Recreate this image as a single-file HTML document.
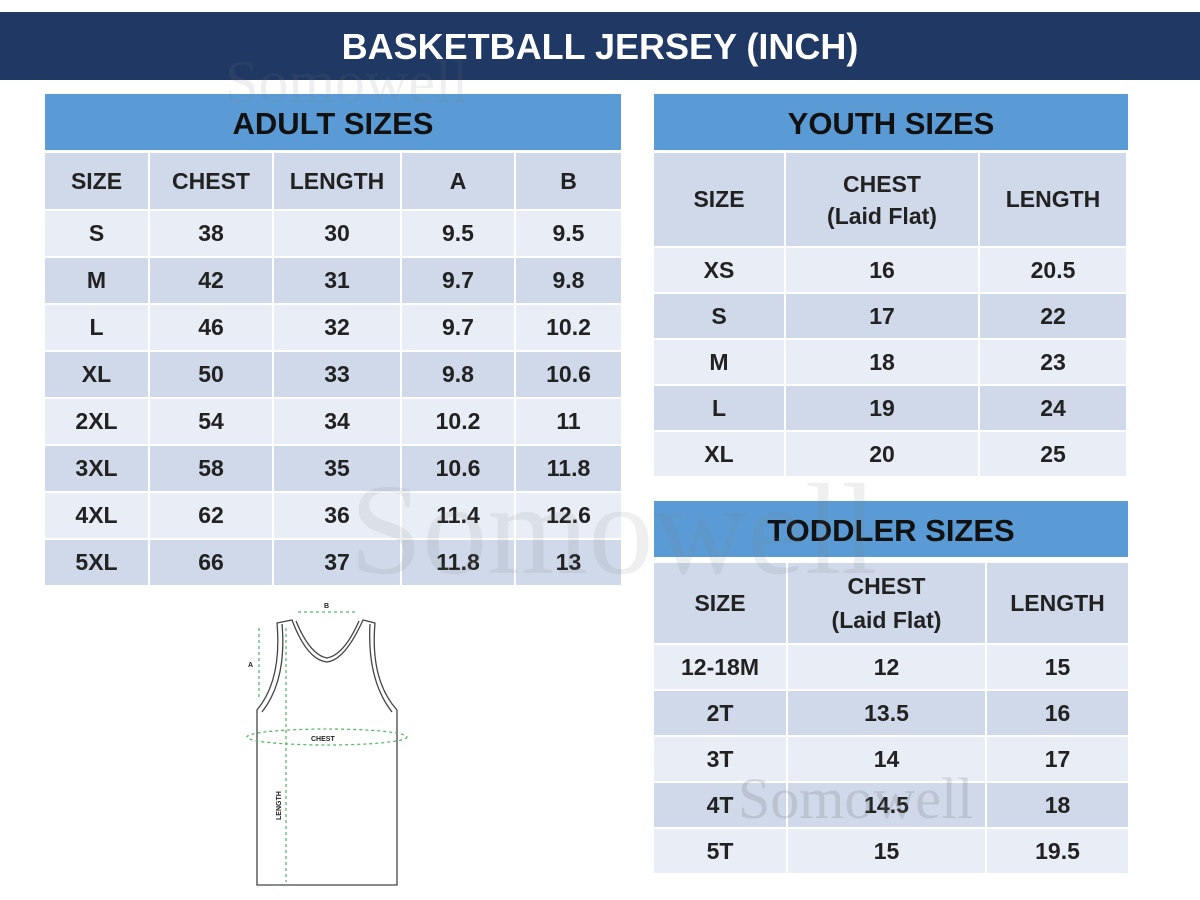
<!DOCTYPE html>
<html><head><meta charset="utf-8"><style>
body{margin:0;width:1200px;height:900px;background:#fff;position:relative;overflow:hidden;font-family:"Liberation Sans",sans-serif;}
.bar{position:absolute;left:0;top:12px;width:1200px;height:68px;background:#203864;color:#fff;font-weight:bold;font-size:36px;text-align:center;line-height:70px;}
.ttl{position:absolute;background:#5b9bd5;color:#111;font-weight:bold;font-size:31px;text-align:center;}
table{position:absolute;border-collapse:separate;border-spacing:2px;background:#fff;}
td{padding:0;text-align:center;font-weight:bold;font-size:23px;color:#222;}
tr.h td{background:#cfd9ea;}
tr.a td{background:#e9edf5;}
tr.b td{background:#cfd9ea;}
.wm{position:absolute;font-family:"Liberation Serif",serif;color:rgba(120,120,120,0.12);}
</style></head><body>
<div class="bar">BASKETBALL JERSEY (INCH)</div>

<div class="ttl" style="left:45px;top:94px;width:576px;height:56px;line-height:60px;">ADULT SIZES</div>
<table style="left:43px;top:151px;">
<tr class="h" style="height:56px"><td style="width:103px">SIZE</td><td style="width:122px">CHEST</td><td style="width:126px">LENGTH</td><td style="width:112px">A</td><td style="width:105px">B</td></tr>
<tr class="a" style="height:45px"><td>S</td><td>38</td><td>30</td><td>9.5</td><td>9.5</td></tr>
<tr class="b" style="height:45px"><td>M</td><td>42</td><td>31</td><td>9.7</td><td>9.8</td></tr>
<tr class="a" style="height:45px"><td>L</td><td>46</td><td>32</td><td>9.7</td><td>10.2</td></tr>
<tr class="b" style="height:45px"><td>XL</td><td>50</td><td>33</td><td>9.8</td><td>10.6</td></tr>
<tr class="a" style="height:45px"><td>2XL</td><td>54</td><td>34</td><td>10.2</td><td>11</td></tr>
<tr class="b" style="height:45px"><td>3XL</td><td>58</td><td>35</td><td>10.6</td><td>11.8</td></tr>
<tr class="a" style="height:45px"><td>4XL</td><td>62</td><td>36</td><td>11.4</td><td>12.6</td></tr>
<tr class="b" style="height:45px"><td>5XL</td><td>66</td><td>37</td><td>11.8</td><td>13</td></tr>
</table>

<div class="ttl" style="left:654px;top:94px;width:474px;height:56px;line-height:60px;">YOUTH SIZES</div>
<table style="left:652px;top:151px;">
<tr class="h" style="height:93px"><td style="width:130px">SIZE</td><td style="width:192px;line-height:32px">CHEST<br>(Laid Flat)</td><td style="width:146px">LENGTH</td></tr>
<tr class="a" style="height:44px"><td>XS</td><td>16</td><td>20.5</td></tr>
<tr class="b" style="height:44px"><td>S</td><td>17</td><td>22</td></tr>
<tr class="a" style="height:44px"><td>M</td><td>18</td><td>23</td></tr>
<tr class="b" style="height:44px"><td>L</td><td>19</td><td>24</td></tr>
<tr class="a" style="height:44px"><td>XL</td><td>20</td><td>25</td></tr>
</table>

<div class="ttl" style="left:654px;top:501px;width:474px;height:56px;line-height:60px;">TODDLER SIZES</div>
<table style="left:652px;top:561px;">
<tr class="h" style="height:80px"><td style="width:132px">SIZE</td><td style="width:197px;line-height:34px">CHEST<br>(Laid Flat)</td><td style="width:141px">LENGTH</td></tr>
<tr class="a" style="height:44px"><td>12-18M</td><td>12</td><td>15</td></tr>
<tr class="b" style="height:44px"><td>2T</td><td>13.5</td><td>16</td></tr>
<tr class="a" style="height:44px"><td>3T</td><td>14</td><td>17</td></tr>
<tr class="b" style="height:44px"><td>4T</td><td>14.5</td><td>18</td></tr>
<tr class="a" style="height:44px"><td>5T</td><td>15</td><td>19.5</td></tr>
</table>

<div class="wm" style="left:225px;top:48px;font-size:60px;">Somowell</div>
<div class="wm" style="left:350px;top:455px;font-size:130px;">Somowell</div>
<div class="wm" style="left:738px;top:765px;font-size:58px;color:rgba(120,120,120,0.22)">Somowell</div>

<svg style="position:absolute;left:220px;top:590px" width="200" height="310" viewBox="0 0 200 310">
<g fill="none" stroke="#444" stroke-width="1.3">
<path d="M57 33 Q62 90 37 120 L37 295 L177 295 L177 120 Q150 90 155 33 L143 30 Q125 70 107 72 Q87 70 72 30 Z"/>
<path d="M62 34 Q67 90 42 122 M150 34 Q147 90 172 122 M76 31 Q90 65 107 68 Q124 65 139 31"/>
</g>
<g fill="none" stroke="#5bb86a" stroke-width="1.3" stroke-dasharray="3 3">
<line x1="78" y1="22" x2="136" y2="22"/><line x1="39" y1="38" x2="39" y2="108"/>
<line x1="66" y1="38" x2="66" y2="292"/>
<ellipse cx="107" cy="147" rx="80" ry="8"/>
</g>
<g font-family="Liberation Sans,sans-serif" font-size="7" font-weight="bold" fill="#222">
<text x="104" y="18">B</text><text x="28" y="77">A</text><text x="91" y="151">CHEST</text>
<text transform="translate(61 230) rotate(-90)">LENGTH</text></g>
</svg>
</body></html>
